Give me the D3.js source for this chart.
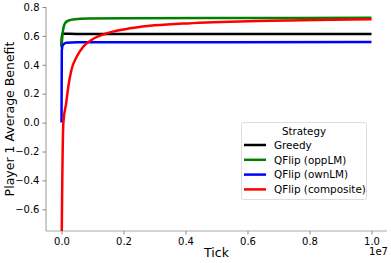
<!DOCTYPE html>
<html><head><meta charset="utf-8">
<script src="https://cdn.jsdelivr.net/npm/d3@7"></script>
<style>body{margin:0;background:#fff;} svg{display:block;font-family:"DejaVu Sans",sans-serif;}</style>
</head><body><svg id="c" width="391" height="263"></svg>
<script>
const seriesNames = ["Greedy", "QFlip (oppLM)", "QFlip (ownLM)", "QFlip (composite)"];
const seriesColors = ["#000000", "#008000", "#0000ff", "#ff0000"];
const greedyX = [0, 1e4, 5e5, 1e7];
const greedyY = [0.53, 0.615, 0.614, 0.613];
const oppX = [0, 2e4, 5e4, 1.1e5, 2.1e5, 4.3e5, 8.5e5, 2e6, 5e6, 1e7];
const oppY = [0.52, 0.58, 0.64, 0.687, 0.705, 0.715, 0.72, 0.722, 0.724, 0.725];
const ownX = [0, 1e4, 4e4, 1.5e5, 5e5, 1e7];
const ownY = [0.0, 0.50, 0.535, 0.552, 0.556, 0.557];
const compX = [0, 2e4, 6e4, 1.5e5, 2.2e5, 3.2e5, 4.9e5, 7e5, 9.7e5, 1.4e6, 2.05e6, 2.85e6, 3.9e6, 5.75e6, 7.7e6, 1e7];
const compY = [-0.95, -0.5, 0.0, 0.133, 0.249, 0.364, 0.456, 0.525, 0.572, 0.613, 0.646, 0.67, 0.685, 0.70, 0.708, 0.715];
const xTicks = [0, 2e6, 4e6, 6e6, 8e6, 1e7];
const xTickLabels = ["0.0", "0.2", "0.4", "0.6", "0.8", "1.0"];
const yTicks = [-0.6, -0.4, -0.2, 0.0, 0.2, 0.4, 0.6, 0.8];
const yTickLabels = ["\u22120.6", "\u22120.4", "\u22120.2", "0.0", "0.2", "0.4", "0.6", "0.8"];

const svg = d3.select("#c");
const L = 46, R = 387, T = 7, B = 231;
const x = d3.scaleLinear().domain([-0.05e7, 1.05e7]).range([L, R]);
const y = d3.scaleLinear().domain([-0.75, 0.8]).range([B, T]);

svg.append("defs").append("clipPath").attr("id", "clip")
  .append("rect").attr("x", L).attr("y", T).attr("width", R - L).attr("height", B - T);

const xAxis = svg.append("g").attr("transform", `translate(0,${B})`)
  .call(d3.axisBottom(x).tickValues(xTicks).tickFormat((d, i) => xTickLabels[i]).tickSize(3.5).tickPadding(3));
const yAxis = svg.append("g").attr("transform", `translate(${L},0)`)
  .call(d3.axisLeft(y).tickValues(yTicks).tickFormat((d, i) => yTickLabels[i]).tickSize(3.5).tickPadding(3));
[xAxis, yAxis].forEach(g => {
  g.select(".domain").attr("stroke", "#aaaaaa").attr("stroke-width", 1.2);
  g.selectAll(".tick line").attr("stroke", "#888888");
  g.selectAll(".tick text").attr("fill", "#000").style("font-size", "10px").style("font-family", "DejaVu Sans");
});
xAxis.select(".domain").attr("d", `M${L},0H${R}`);
yAxis.select(".domain").attr("d", `M0,${T}V${B}`);

const data = [[greedyX, greedyY], [oppX, oppY], [ownX, ownY], [compX, compY]];
const line = d3.line().x(d => x(d[0])).y(d => y(d[1])).curve(d3.curveMonotoneX);
const plot = svg.append("g").attr("clip-path", "url(#clip)");
data.forEach((s, i) => {
  const pts = s[0].map((v, j) => [v, s[1][j]]);
  plot.append("path").datum(pts).attr("d", line)
    .attr("fill", "none").attr("stroke", seriesColors[i]).attr("stroke-width", 2.5)
    .attr("stroke-linejoin", "round");
});

svg.append("text").attr("x", (L + R) / 2).attr("y", 257).attr("text-anchor", "middle")
  .style("font-size", "12.5px").text("Tick");
svg.append("text").attr("x", 388).attr("y", 255).attr("text-anchor", "end")
  .style("font-size", "10px").text("1e7");
svg.append("text").attr("transform", `translate(14,${(T + B) / 2}) rotate(-90)`).attr("text-anchor", "middle")
  .style("font-size", "12.5px").text("Player 1 Average Benefit");

// legend
const lg = svg.append("g");
lg.append("rect").attr("x", 241.5).attr("y", 122.5).attr("width", 125).attr("height", 77)
  .attr("rx", 2).attr("fill", "#fff").attr("stroke", "#dddddd");
lg.append("text").attr("x", 304).attr("y", 135).attr("text-anchor", "middle").style("font-size", "10.3px").text("Strategy");
seriesNames.forEach((n, i) => {
  const yy = 145 + i * 14.8;
  lg.append("line").attr("x1", 244).attr("x2", 266).attr("y1", yy).attr("y2", yy)
    .attr("stroke", seriesColors[i]).attr("stroke-width", 2.5);
  lg.append("text").attr("x", 274).attr("y", yy + 3.7).style("font-size", "10.4px").text(n);
});
</script></body></html>
